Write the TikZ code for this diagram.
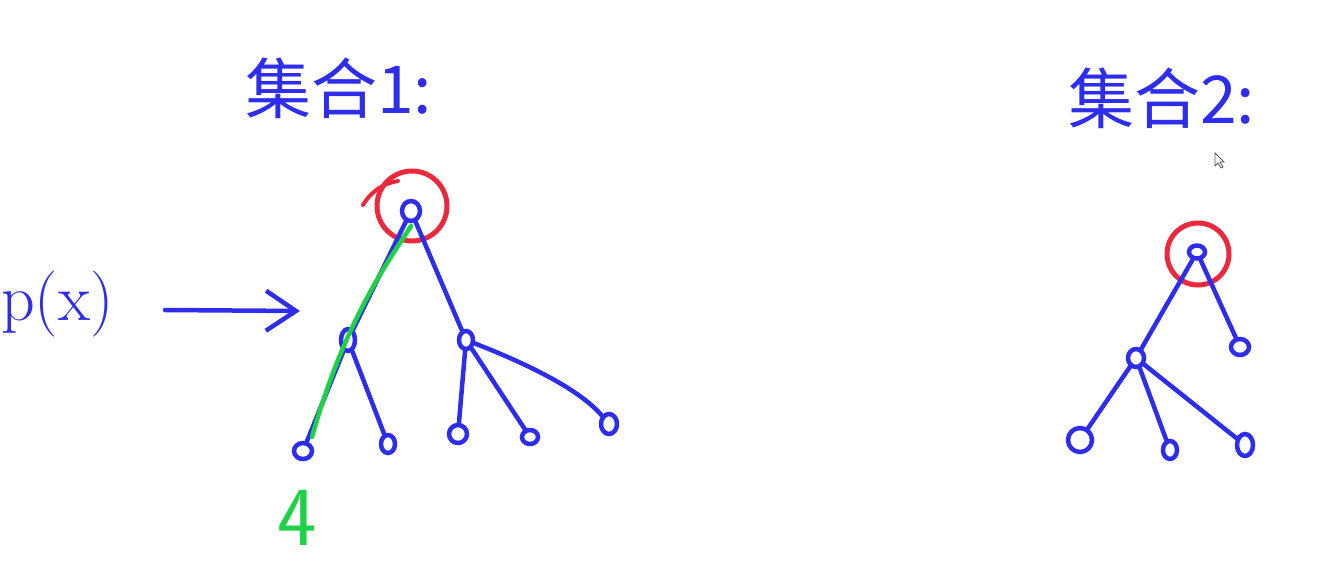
\documentclass[tikz,border=0pt]{standalone}
\usepackage{fontspec}
\newfontfamily\cjk{Noto Sans CJK SC}
\usetikzlibrary{shapes.geometric,arrows.meta}
\definecolor{pen}{RGB}{45,45,235}
\definecolor{rpen}{RGB}{235,40,60}
\definecolor{gpen}{RGB}{30,210,70}
\tikzset{
  nd/.style={ellipse,draw=pen,line width=4.5pt,inner sep=0pt,minimum width=#1},
  nd/.default=14pt,
  ed/.style={pen,line width=4.5pt,line cap=round},
  ring/.style={circle,draw=rpen,line width=5pt,inner sep=0pt},
  lbl/.style={text=pen,inner sep=0pt},
}
\begin{document}
\begin{tikzpicture}[x=1pt,y=-1pt]
\useasboundingbox (0,0) rectangle (1318,570);
% ---------- set 1 ----------
\node[lbl,anchor=west,font=\cjk\fontsize{66}{70}\selectfont] (t1) at (245,88) {集合1:};
\node[nd,minimum height=20pt,minimum width=18pt] (r1) at (411,211) {};
\node[ring,minimum size=70pt] (c1) at (412,206) {};
\draw[rpen,line width=4pt,line cap=round] (363,205) .. controls (372,190) and (385,183) .. (398,181);
\node[nd,minimum height=22pt] (a1) at (348,340) {};
\node[nd,minimum height=18pt] (b1) at (466,340) {};
\node[nd,minimum width=18pt,minimum height=16pt] (l1) at (303,451) {};
\node[nd,minimum height=18pt] (l2) at (388,444) {};
\node[nd,minimum width=18pt,minimum height=18pt] (l3) at (458,434) {};
\node[nd,minimum width=16pt,minimum height=14pt] (l4) at (530,437) {};
\node[nd,minimum width=16pt,minimum height=20pt] (l5) at (609,424) {};
\draw[ed] (r1) -- (a1);
\draw[ed] (r1) -- (b1);
\draw[ed] (a1) -- (l1);
\draw[ed] (a1) -- (l2);
\draw[ed] (b1) -- (l3);
\draw[ed] (b1) -- (l4);
\draw[ed] (b1) .. controls (530,365) and (580,390) .. (l5);
\coordinate (gs) at (411,226);
\coordinate (ge) at (312,437);
\draw[gpen,line width=4.5pt,line cap=round] (gs) .. controls (388,262) and (345,320) .. (ge);
\node[text=gpen,inner sep=0pt,font=\sffamily\fontsize{84}{90}\selectfont] (four) at (297,518) {4};
% p(x) and arrow
\node[lbl,anchor=west,font=\fontsize{66}{70}\selectfont] (px) at (1,304) {p(x)};
\coordinate (as) at (165,310);
\coordinate (ae) at (300,311);
\draw[ed,-{Straight Barb[length=30pt,width=40pt,line width=4.5pt]}] (as) -- (ae);
% ---------- set 2 ----------
\node[lbl,anchor=west,font=\cjk\fontsize{66}{70}\selectfont] (t2) at (1068,98) {集合2:};
\draw[gray!70!black,line width=0.8pt,fill=white] (1215,153) -- (1215,166) -- (1218,163) -- (1221,168) -- (1223,167) -- (1220,162) -- (1224,162) -- cycle;
\node[nd,minimum width=16pt,minimum height=13pt] (r2) at (1197,252) {};
\node[ring,minimum size=62pt] (c2) at (1198,254) {};
\node[nd,minimum width=16pt,minimum height=18pt] (m2) at (1136,358) {};
\node[nd,minimum width=18pt,minimum height=16pt] (k1) at (1240,347) {};
\node[nd,minimum width=24pt,minimum height=24pt] (k2) at (1080,440) {};
\node[nd,minimum width=14pt,minimum height=18pt] (k3) at (1170,450) {};
\node[nd,minimum width=16pt,minimum height=22pt] (k4) at (1245,445) {};
\draw[ed] (r2) -- (m2);
\draw[ed] (m2) -- (k2);
\draw[ed] (r2) -- (k1);
\draw[ed] (m2) -- (k3);
\draw[ed] (m2) -- (k4);
\end{tikzpicture}
\end{document}
